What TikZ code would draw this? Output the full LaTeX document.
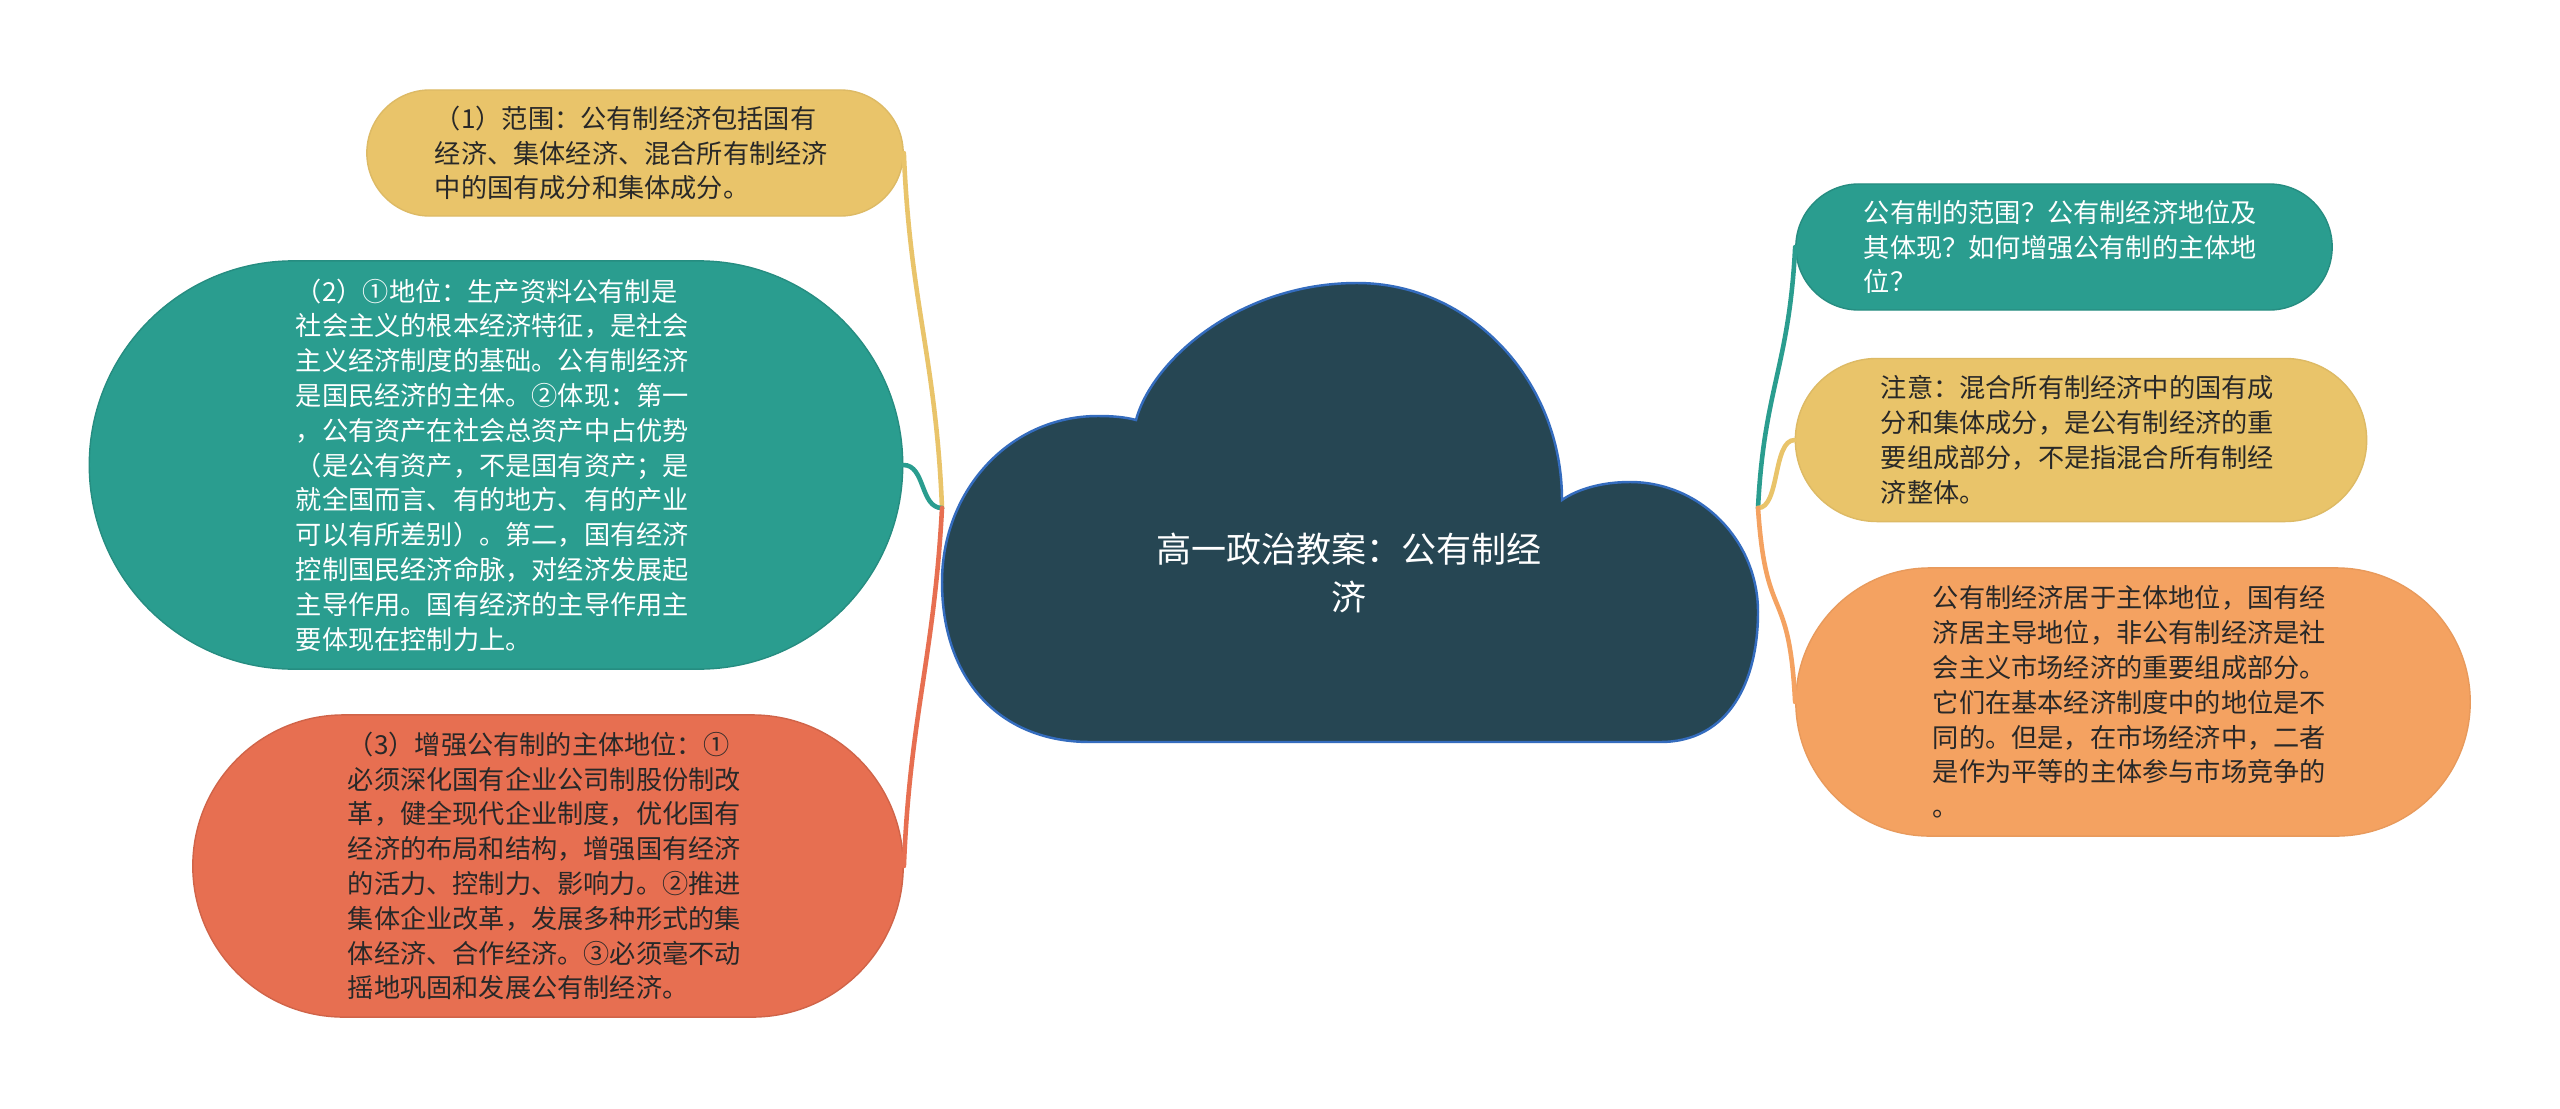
\documentclass[tikz,border=0pt]{standalone}
\usepackage{fontspec}
\usepackage{tikz}
\newfontfamily\cjk{Noto Sans CJK SC}
\definecolor{cdark}{RGB}{38,70,83}
\definecolor{cteal}{RGB}{42,157,143}
\definecolor{cyellow}{RGB}{233,196,106}
\definecolor{corange}{RGB}{244,162,97}
\definecolor{cred}{RGB}{231,111,81}
\definecolor{cborder}{RGB}{52,108,190}
\definecolor{textdark}{RGB}{40,40,40}

\begin{document}
\begin{tikzpicture}[x=0.01cm, y=-0.01cm,
    bubble/.style={rectangle, align=left, text width=4cm, inner sep=0pt,
        font=\cjk\fontsize{7.45pt}{9.9pt}\selectfont},
    link/.style={line width=1.3pt, line cap=round}]
    \useasboundingbox (0,0) rectangle (2560,1109);
    \fill[white] (0,0) rectangle (2560,1109);

    % Nuvola centrale
    \filldraw[fill=cdark, draw=cborder, line width=0.7pt]
        (1090,742) -- (1660,742)
        .. controls (1730,742) and (1758,680) .. (1758,612)
        .. controls (1758,540) and (1700,482) .. (1630,482)
        .. controls (1600,482) and (1576,490) .. (1562,500)
        .. controls (1562,380) and (1470,283) .. (1357,283)
        .. controls (1240,283) and (1152,360) .. (1136,420)
        .. controls (1125,417) and (1112,416) .. (1098,416)
        .. controls (1010,416) and (942,490) .. (942,582)
        .. controls (942,680) and (1000,742) .. (1090,742) -- cycle;
    \node[align=center, text=white, font=\cjk\fontsize{9.96pt}{13.7pt}\selectfont]
        (title) at (1349,573) {高一政治教案：公有制经\\济};
    \coordinate (ljoin) at (942,508);
    \coordinate (rjoin) at (1758,508);

    % Rami a sinistra
    \node[bubble, fill=cyellow, draw=cyellow!95!black, text=textdark,
        minimum width=5.36cm, minimum height=1.26cm, rounded corners=0.63cm]
        (range) at (635,153)
        {（1）范围：公有制经济包括国有\\经济、集体经济、混合所有制经济\\中的国有成分和集体成分。};
    \node[bubble, fill=cteal, draw=cteal!90!black, text=white,
        minimum width=8.13cm, minimum height=4.08cm, rounded corners=2.04cm]
        (status) at (496,465)
        {（2）①地位：生产资料公有制是\\社会主义的根本经济特征，是社会\\主义经济制度的基础。公有制经济\\是国民经济的主体。②体现：第一\\，公有资产在社会总资产中占优势\\（是公有资产，不是国有资产；是\\就全国而言、有的地方、有的产业\\可以有所差别）。第二，国有经济\\控制国民经济命脉，对经济发展起\\主导作用。国有经济的主导作用主\\要体现在控制力上。};
    \node[bubble, fill=cred, draw=cred!90!black, text=textdark,
        minimum width=7.10cm, minimum height=3.02cm, rounded corners=1.51cm]
        (strengthen) at (548,866)
        {（3）增强公有制的主体地位：①\\必须深化国有企业公司制股份制改\\革，健全现代企业制度，优化国有\\经济的布局和结构，增强国有经济\\的活力、控制力、影响力。②推进\\集体企业改革，发展多种形式的集\\体经济、合作经济。③必须毫不动\\摇地巩固和发展公有制经济。};

    % Rami a destra
    \node[bubble, fill=cteal, draw=cteal!90!black, text=white,
        minimum width=5.36cm, minimum height=1.26cm, rounded corners=0.63cm]
        (question) at (2064,247)
        {公有制的范围？公有制经济地位及\\其体现？如何增强公有制的主体地\\位？};
    \node[bubble, fill=cyellow, draw=cyellow!95!black, text=textdark,
        minimum width=5.71cm, minimum height=1.63cm, rounded corners=0.815cm]
        (note) at (2081,440)
        {注意：混合所有制经济中的国有成\\分和集体成分，是公有制经济的重\\要组成部分，不是指混合所有制经\\济整体。};
    \node[bubble, fill=corange, draw=corange!95!black, text=textdark,
        minimum width=6.74cm, minimum height=2.68cm, rounded corners=1.34cm]
        (relation) at (2133,702)
        {公有制经济居于主体地位，国有经\\济居主导地位，非公有制经济是社\\会主义市场经济的重要组成部分。\\它们在基本经济制度中的地位是不\\同的。但是，在市场经济中，二者\\是作为平等的主体参与市场竞争的\\。};

    % Collegamenti
    \draw[link, cyellow] (ljoin) .. controls +(-6,-150) and +(6,150) .. (range.east);
    \draw[link, cteal] (ljoin) .. controls +(-22,0) and +(22,0) .. (status.east);
    \draw[link, cred] (ljoin) .. controls +(-8,150) and +(6,-150) .. (strengthen.east);
    \draw[link, cteal] (rjoin) .. controls +(6,-120) and +(-6,120) .. (question.west);
    \draw[link, cyellow] (rjoin) .. controls +(22,0) and +(-22,0) .. (note.west);
    \draw[link, corange] (rjoin) .. controls +(8,120) and +(-6,-120) .. (relation.west);
\end{tikzpicture}
\end{document}
